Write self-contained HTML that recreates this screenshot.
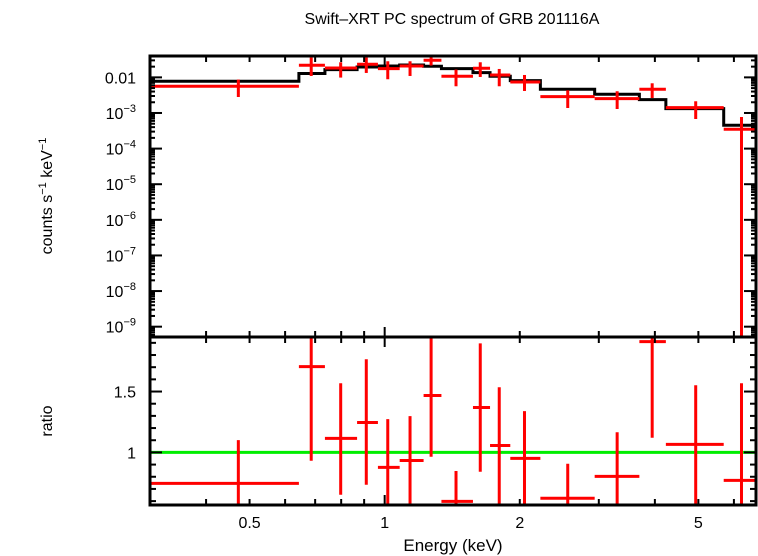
<!DOCTYPE html>
<html><head><meta charset="utf-8">
<style>
body{margin:0;background:#fff;}
svg{display:block;font-family:"Liberation Sans",sans-serif;}
</style></head>
<body>
<svg id="chart" width="758" height="556" viewBox="0 0 758 556" xmlns="http://www.w3.org/2000/svg">
<text x="452" y="24" font-size="16" text-anchor="middle">Swift–XRT PC spectrum of GRB 201116A</text>
<text x="453" y="551" font-size="17" text-anchor="middle">Energy (keV)</text>
<text transform="translate(52,196) rotate(-90)" font-size="16" text-anchor="middle">counts s<tspan font-size="11" dy="-6">−1</tspan><tspan dy="6"> keV</tspan><tspan font-size="11" dy="-6">−1</tspan></text>
<text transform="translate(52,421) rotate(-90)" font-size="16" text-anchor="middle">ratio</text>
<g id="g"></g>
</svg>
<script>
// bin edges (keV)
const binEdges=[0.3,0.644,0.736,0.868,0.966,1.08,1.221,1.338,1.573,1.717,1.905,2.223,2.937,3.694,4.232,5.694,6.72];
// error bar centre energies (keV)
const centerE=[0.472,0.686,0.798,0.910,1.016,1.139,1.269,1.442,1.633,1.800,2.049,2.558,3.296,3.945,4.932,6.238];
// log10 of count rate (data), upper and lower error
const dataLog=[-2.25,-1.66,-1.736,-1.632,-1.753,-1.68,-1.52,-1.969,-1.744,-1.933,-2.129,-2.539,-2.596,-2.334,-2.848,-3.458];
const dataHiLog=[-2.062,-1.444,-1.576,-1.444,-1.548,-1.548,-1.371,-1.781,-1.576,-1.764,-1.933,-2.362,-2.39,-2.166,-2.671,-3.112];
const dataLoLog=[-2.551,-1.961,-2.006,-1.876,-2.053,-1.961,-1.668,-2.25,-1.989,-2.25,-2.382,-2.86,-2.888,-2.579,-3.169,-12];
// log10 of model
const modelLog=[-2.11,-1.893,-1.781,-1.708,-1.68,-1.652,-1.688,-1.753,-1.866,-1.969,-2.09,-2.334,-2.475,-2.624,-2.877,-3.346];
// ratio values and errors
const ratio=[0.746,1.705,1.115,1.246,0.877,0.934,1.467,0.598,1.369,1.057,0.951,0.623,0.803,1.91,1.066,0.77];
const ratioHi=[1.101,2.5,1.568,1.765,1.273,1.298,2.5,0.847,1.896,1.535,1.339,0.907,1.166,2.5,1.552,1.568];
const ratioLo=[0.0,0.931,0.652,0.734,0.0,0.574,0.964,0.0,0.841,0.576,0.0,0.0,0.0,1.12,0.574,0.0];
const xTicks=[0.3,0.4,0.5,0.6,0.7,0.8,0.9,1,2,3,4,5,6];
const xLabels=[0.5,1,2,5];
const yTopExps=[-2,-3,-4,-5,-6,-7,-8,-9];
const rTicks=[1,1.5];

const L=150,R=756,T1=56,B1=337,B2=505;
const xmin=0.3,xmax=6.72,ymaxL=-1.40,yminL=-9.29,rmax=1.948,rmin=0.568;
const X=e=>L+(Math.log10(e)-Math.log10(xmin))/(Math.log10(xmax)-Math.log10(xmin))*(R-L);
const Y1=l=>T1+(ymaxL-l)/(ymaxL-yminL)*(B1-T1);
const Y2=r=>B1+(rmax-r)/(rmax-rmin)*(B2-B1);
const g=document.getElementById('g');
const NS='http://www.w3.org/2000/svg';
function el(t,a,p){const e=document.createElementNS(NS,t);for(const k in a)e.setAttribute(k,a[k]);(p||g).appendChild(e);return e;}

const defs=el('defs',{});
const c1=el('clipPath',{id:'c1'},defs);el('rect',{x:L,y:T1,width:R-L,height:B1-T1},c1);
const c2=el('clipPath',{id:'c2'},defs);el('rect',{x:L,y:B1,width:R-L,height:B2-B1},c2);
const topG=el('g',{'clip-path':'url(#c1)'});


const botG=el('g',{'clip-path':'url(#c2)'});



let d='';
for(let i=0;i<modelLog.length;i++){const y=Y1(modelLog[i]);d+=(i?'L':'M')+X(binEdges[i])+','+y+'L'+X(binEdges[i+1])+','+y;}
const mp=el('path',{d:d,fill:'none',stroke:'#000','stroke-width':3},topG);



const gl=el('line',{x1:L,x2:R,y1:Y2(1),y2:Y2(1),stroke:'#00ee00','stroke-width':3},botG);



for(let i=0;i<dataLog.length;i++){
  const x0=X(binEdges[i]),x1=X(binEdges[i+1]),xc=X(centerE[i]);
  const gp=el('g',{stroke:'#f00','stroke-width':3},topG);
  
  
  el('line',{x1:x0,x2:x1,y1:Y1(dataLog[i]),y2:Y1(dataLog[i])},gp);
  el('line',{x1:xc,x2:xc,y1:Y1(dataHiLog[i]),y2:Y1(dataLoLog[i])},gp);
  const gr=el('g',{stroke:'#f00','stroke-width':3},botG);
  
  
  el('line',{x1:x0,x2:x1,y1:Y2(ratio[i]),y2:Y2(ratio[i])},gr);
  el('line',{x1:xc,x2:xc,y1:Y2(ratioHi[i]),y2:Y2(ratioLo[i])},gr);
}

const f1=el('rect',{x:L,y:T1,width:R-L,height:B1-T1,fill:'none',stroke:'#000','stroke-width':3});


const f2=el('rect',{x:L,y:B1,width:R-L,height:B2-B1,fill:'none',stroke:'#000','stroke-width':3});



const tk=el('g',{stroke:'#000','stroke-width':2});


xTicks.forEach(v=>{const x=X(v);const len=v===1?10:6;
  [[T1,1],[B1,-1],[B1,1],[B2,-1]].forEach(([y,s])=>el('line',{x1:x,x2:x,y1:y,y2:y+s*len},tk));});
xLabels.forEach(v=>{const t=el('text',{x:X(v),y:528,'font-size':16,'text-anchor':'middle'});t.textContent=String(v);
  
  });

for(let e=-10;e<=-1;e++){for(let m=1;m<10;m++){const l=e+Math.log10(m);if(l>ymaxL||l<yminL)continue;const y=Y1(l);const len=m===1?12:5;
  el('line',{x1:L,x2:L+len,y1:y,y2:y},tk);el('line',{x1:R,x2:R-len,y1:y,y2:y},tk);}}
yTopExps.forEach(e=>{const y=Y1(e);const t=el('text',{x:136,y:y+6,'font-size':16,'text-anchor':'end'});
  if(e===-2)t.textContent='0.01';else{t.textContent='10';const s=el('tspan',{'font-size':11,dy:-7},t);s.textContent='−'+(-e);}
  
  });

for(let r=0.6;r<=1.95;r+=0.1){const y=Y2(r);const major=Math.abs(r*2-Math.round(r*2))<0.01;const len=major?12:6;
  el('line',{x1:L,x2:L+len,y1:y,y2:y},tk);el('line',{x1:R,x2:R-len,y1:y,y2:y},tk);}
rTicks.forEach(v=>{const t=el('text',{x:136,y:Y2(v)+6,'font-size':16,'text-anchor':'end'});t.textContent=String(v);
  
  });
</script>
</body></html>
